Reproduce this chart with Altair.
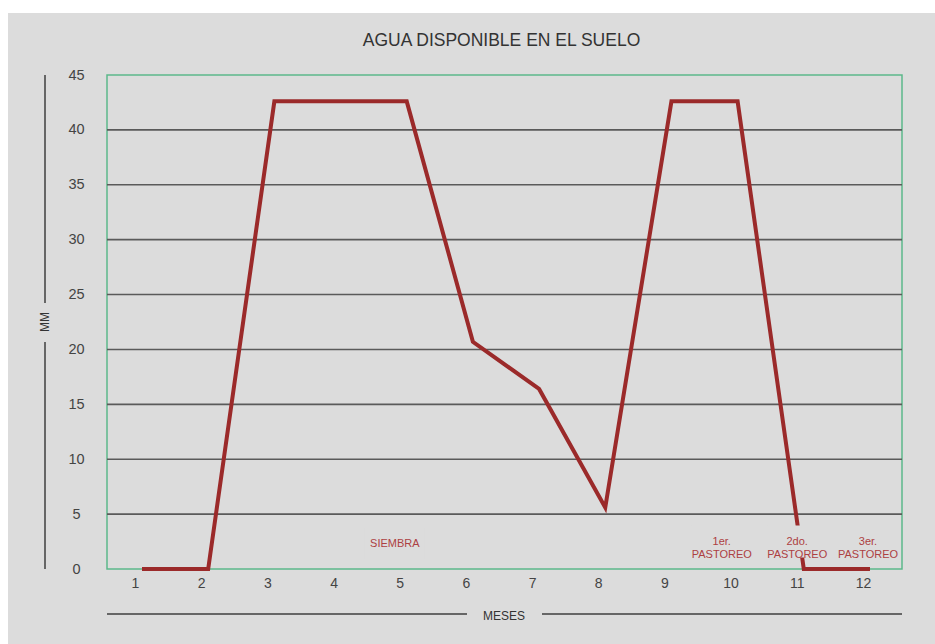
import altair as alt
import pandas as pd

months = [1, 2, 3, 4, 5, 6, 7, 8, 9, 10, 11, 12]
water_mm = [0, 0, 42.6, 42.6, 42.6, 20.7, 16.4, 5.6, 42.6, 42.6, 0, 0]
grid_values = [5, 10, 15, 20, 25, 30, 35, 40]
y_ticks = [0, 5, 10, 15, 20, 25, 30, 35, 40, 45]

note_text = [["SIEMBRA"], ["1er.", "PASTOREO"], ["2do.", "PASTOREO"], ["3er.", "PASTOREO"]]
note_x = [4.82, 9.76, 10.90, 11.97]
note_y = [2.3, 2.5, 2.5, 2.5]

FONT = "Liberation Sans"
W, H = 795, 494

df = pd.DataFrame({"mes": months, "mm": water_mm})
grid_df = pd.DataFrame({"g": grid_values})
notes_df = pd.DataFrame({"t": note_text, "x": note_x, "y": note_y})
one = alt.Data(values=[{"a": 1}])

xscale = alt.Scale(domain=[0.471, 12.484], nice=False, zero=False)
yscale = alt.Scale(domain=[0, 45], nice=False)

# white strips at top / left edges of the picture
white_top = alt.Chart(one).mark_rect(color="white").encode(
    x=alt.value(-107), x2=alt.value(W + 40), y=alt.value(-75), y2=alt.value(-62))
white_left = alt.Chart(one).mark_rect(color="white").encode(
    x=alt.value(-107), x2=alt.value(-99), y=alt.value(-75), y2=alt.value(H + 80))

grid = alt.Chart(grid_df).mark_rule(color="#5a5a5a", strokeWidth=1.6).encode(
    y=alt.Y("g:Q", scale=yscale))

line = alt.Chart(df).mark_line(color="#9b2a2a", strokeWidth=4, strokeJoin="miter").encode(
    x=alt.X("mes:Q", scale=xscale,
            axis=alt.Axis(values=months, title=None, grid=False, domain=False, ticks=False,
                          labelFontSize=14, labelColor="#444", labelFont=FONT,
                          labelPadding=7, labelOffset=-7, format="d")),
    y=alt.Y("mm:Q", scale=yscale,
            axis=alt.Axis(values=y_ticks, title=None, grid=False, domain=False, ticks=False,
                          tickSize=0, labelAlign="center", labelPadding=31,
                          labelFontSize=14.5, labelColor="#444", labelFont=FONT)),
)

note_boxes = alt.Chart(notes_df).mark_rect(
    color="#dcdcdc", width=60, height=32
).encode(x=alt.X("x:Q", scale=xscale), y=alt.Y("y:Q", scale=yscale))

notes = alt.Chart(notes_df).mark_text(
    color="#ad4042", fontSize=11, font=FONT, baseline="middle", align="center", lineHeight=13
).encode(x=alt.X("x:Q", scale=xscale), y=alt.Y("y:Q", scale=yscale), text="t")

title = alt.Chart(one).mark_text(
    text="AGUA DISPONIBLE EN EL SUELO", fontSize=17.5, font=FONT, color="#333",
    align="center", baseline="middle").encode(x=alt.value(W / 2 - 3), y=alt.value(-34))

yline1 = alt.Chart(one).mark_rule(color="#666", strokeWidth=2).encode(
    x=alt.value(-62), y=alt.value(0), y2=alt.value(228))
yline2 = alt.Chart(one).mark_rule(color="#666", strokeWidth=2).encode(
    x=alt.value(-62), y=alt.value(267), y2=alt.value(H))
ylab = alt.Chart(one).mark_text(
    text="MM", fontSize=12, font=FONT, color="#333", angle=270,
    align="center", baseline="middle").encode(x=alt.value(-62), y=alt.value(247))

xline1 = alt.Chart(one).mark_rule(color="#666", strokeWidth=2).encode(
    y=alt.value(539), x=alt.value(0), x2=alt.value(360))
xline2 = alt.Chart(one).mark_rule(color="#666", strokeWidth=2).encode(
    y=alt.value(539), x=alt.value(435), x2=alt.value(W))
xlab = alt.Chart(one).mark_text(
    text="MESES", fontSize=12, font=FONT, color="#333",
    align="center", baseline="middle").encode(x=alt.value(397), y=alt.value(541))

chart = alt.layer(
    white_top, white_left, grid, line, note_boxes, notes, title,
    yline1, yline2, ylab, xline1, xline2, xlab
).properties(
    width=W, height=H,
    padding={"left": 107, "top": 75, "right": 33, "bottom": 75},
    autosize="none",
    background="#dcdcdc",
).configure_view(
    stroke="#5cb88a", strokeWidth=1.5, fill="#dcdcdc"
)

chart.save("out.html", embed_options={"renderer": "svg", "actions": False})
